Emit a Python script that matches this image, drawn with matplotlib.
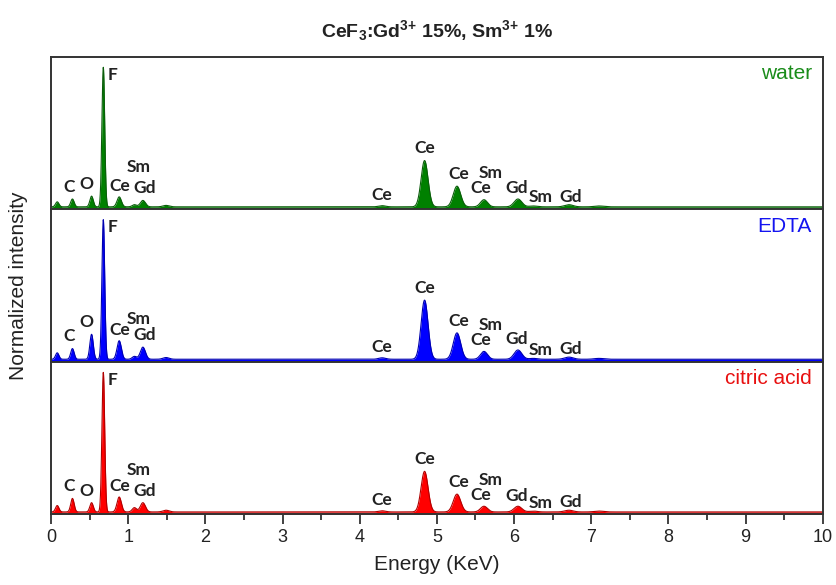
import matplotlib
matplotlib.use("Agg")
import matplotlib.pyplot as plt
import numpy as np

# peak energies (KeV) and widths (sigma, KeV) of the EDS lines
peak_energy = [0.08, 0.277, 0.525, 0.677, 0.883, 1.08, 1.19, 1.49,
               4.29, 4.84, 5.26, 5.61, 6.05, 6.25, 6.71, 7.10]
peak_sigma = [0.022, 0.022, 0.022, 0.018, 0.028, 0.028, 0.033, 0.040,
              0.045, 0.045, 0.048, 0.045, 0.050, 0.050, 0.055, 0.060]

# peak amplitudes above background for each sample
amp_water = [0.035, 0.055, 0.075, 0.98, 0.070, 0.015, 0.045, 0.010,
             0.008, 0.325, 0.145, 0.050, 0.055, 0.006, 0.015, 0.006]
amp_edta = [0.045, 0.075, 0.175, 0.98, 0.130, 0.020, 0.085, 0.012,
            0.010, 0.415, 0.185, 0.055, 0.065, 0.006, 0.015, 0.006]
amp_citric = [0.045, 0.095, 0.065, 0.98, 0.105, 0.030, 0.065, 0.012,
              0.008, 0.285, 0.125, 0.040, 0.040, 0.006, 0.012, 0.006]
background = [0.018, 0.018, 0.016]

samples = ["water", "EDTA", "citric acid"]
fill_colors = ["#008000", "#0000ff", "#ff0000"]
edge_colors = ["#0b5d0b", "#0000b0", "#b00000"]
text_colors = ["#1a8c1a", "#1414f0", "#e81010"]

# peak labels: text, x position, energy it sits over, offset above the curve
labels = [("C", 0.235, 0.277, 0.085), ("O", 0.46, 0.525, 0.085),
          ("F", 0.80, 0.677, -0.05), ("Ce", 0.895, 0.883, 0.075),
          ("Sm", 1.13, 1.08, 0.265), ("Gd", 1.21, 1.19, 0.085),
          ("Ce", 4.28, 4.29, 0.075), ("Ce", 4.84, 4.84, 0.085),
          ("Ce", 5.28, 5.26, 0.085), ("Ce", 5.57, 5.61, 0.08),
          ("Sm", 5.70, 5.61, 0.185), ("Gd", 6.03, 6.05, 0.075),
          ("Sm", 6.34, 6.25, 0.06), ("Gd", 6.73, 6.71, 0.055)]

energy = np.linspace(0, 10, 4001)


def spectrum(amps, bg):
    y = np.full_like(energy, bg)
    for e0, s, a in zip(peak_energy, peak_sigma, amps):
        y += a * np.exp(-0.5 * ((energy - e0) / s) ** 2)
    return y


plt.rcParams['font.family'] = ['Liberation Sans', 'DejaVu Sans']
plt.rcParams['mathtext.fontset'] = 'custom'
plt.rcParams['mathtext.bf'] = 'Liberation Sans:bold'
plt.rcParams['mathtext.rm'] = 'Liberation Sans:bold'
plt.rcParams['mathtext.default'] = 'bf'

fig = plt.figure(figsize=(8.37, 5.85), dpi=100)
left, right, bottom, top = 0.061, 0.983, 0.121, 0.9026
h = (top - bottom) / 3
axes = [fig.add_axes([left, top - (i + 1) * h, right - left, h]) for i in range(3)]

all_amps = [amp_water, amp_edta, amp_citric]
for i, ax in enumerate(axes):
    y = spectrum(all_amps[i], background[i])
    ax.fill_between(energy, 0, y, color=fill_colors[i], lw=0)
    ax.plot(energy, y, color=edge_colors[i], lw=0.8)
    ax.set_xlim(0, 10)
    ax.set_ylim(0, 1.07)
    ax.set_yticks([])
    for sp in ax.spines.values():
        sp.set_color("#333333")
        sp.set_linewidth(1.4)
    if i < 2:
        ax.spines['bottom'].set_color(fill_colors[i])
        ax.tick_params(axis='x', bottom=False, labelbottom=False)
    ax.text(0.986, 0.89, samples[i], transform=ax.transAxes, ha='right',
            va='center', fontsize=15, color=text_colors[i])
    for txt, lx, le, dy in labels:
        ly = np.interp(le, energy, y) + dy
        ax.text(lx, ly, txt, ha='center', va='center', fontsize=12.5,
                family=['Lato', 'DejaVu Sans'], fontweight='bold', color="#222222")

ax = axes[2]
ax.set_xticks(np.arange(0, 11, 1))
ax.set_xticks(np.arange(0.5, 10, 1), minor=True)
ax.tick_params(axis='x', which='major', direction='out', length=7, width=1.3,
               labelsize=13, colors="#333333", labelcolor="#222222", pad=4)
ax.tick_params(axis='x', which='minor', direction='out', length=4, width=1.3,
               colors="#333333")
ax.set_xlabel("Energy (KeV)", fontsize=15, color="#222222", labelpad=6)

fig.text(0.022, (top + bottom) / 2, "Normalized intensity", rotation=90,
         ha='center', va='center', fontsize=15, color="#222222")
fig.text((left + right) / 2, 0.948, r"CeF$_3$:Gd$^{3{+}}$ 15%, Sm$^{3{+}}$ 1%",
         ha='center', va='center', fontsize=14, fontweight='bold', color="#222222")

fig.savefig("out.png", dpi=100)
